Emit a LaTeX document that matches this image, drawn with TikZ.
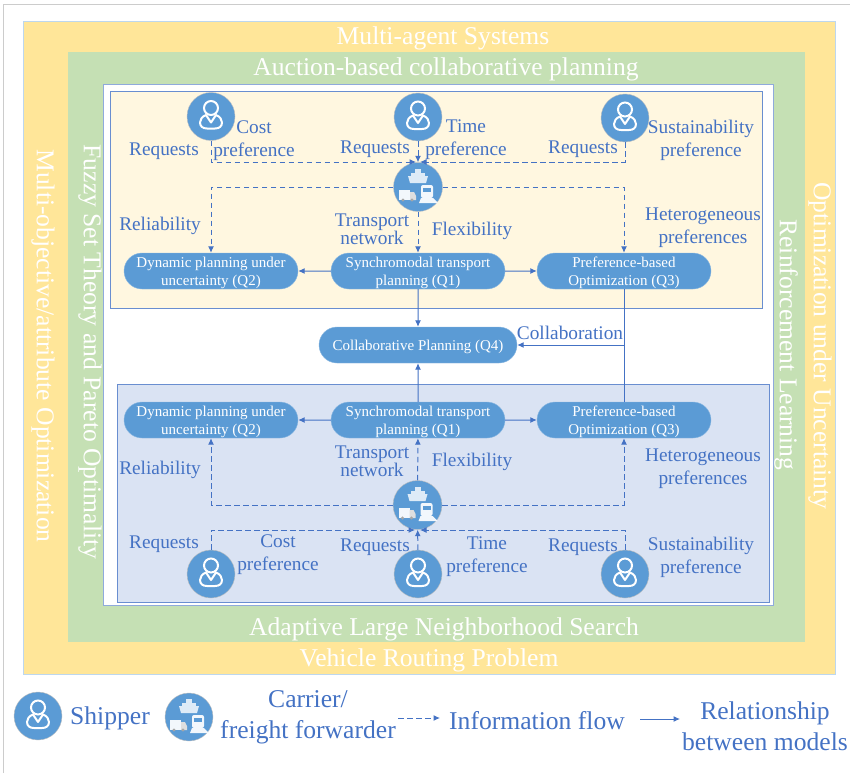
\documentclass[tikz,border=0pt]{standalone}
\usepackage{fontspec}
\setmainfont{Liberation Serif}
\usetikzlibrary{shapes.misc,arrows.meta}
\definecolor{flowblue}{HTML}{4472C4}
\definecolor{pillblue}{HTML}{5B9BD5}
\definecolor{outeryellow}{HTML}{FFE699}
\definecolor{midgreen}{HTML}{C5E0B4}
\definecolor{paleyellow}{HTML}{FFF7E0}
\definecolor{paleblue}{HTML}{DAE3F3}
\definecolor{edgeblue}{HTML}{8FAADC}
\definecolor{outeredge}{HTML}{BDD7EE}
\newcommand{\fsize}[2]{\fontsize{#1}{#2}\selectfont}
\tikzset{
  band/.style={draw=edgeblue, line width=.8pt},
  pill/.style={rounded rectangle, fill=pillblue, draw=pillblue!70!white, text=white, align=center,
    minimum width=174, minimum height=36, inner sep=0pt, text depth=0pt, font=\fsize{15}{18}},
  badge/.style={circle, fill=pillblue, draw=gray!50, minimum size=48, inner sep=0pt},
  lbl/.style={text=flowblue, align=center, inner sep=0pt, font=\fsize{19.3}{20}},
  big/.style={text=flowblue, align=center, inner sep=0pt, font=\fsize{25.6}{31}},
  bandtitle/.style={text=white, inner sep=0pt, font=\fsize{25.6}{26}},
  flow/.style={-{Latex[length=6.5pt,width=6pt]}, flowblue, dashed, dash pattern=on 5.5pt off 3.5pt, line width=1pt},
  rel/.style={-{Latex[length=6.5pt,width=6pt]}, flowblue, line width=1pt},
  shipperpic/.pic={
    \draw[white, line width=2pt] (0,-8.5) circle[radius=7];
    \draw[white, line width=2pt, line join=round] (-5,-1.5) .. controls (-9,0) and (-11,3) .. (-11,6)
      .. controls (-11,10) and (-8,12) .. (-4,12) -- (4,12) .. controls (8,12) and (11,10) .. (11,6)
      .. controls (11,3) and (9,0) .. (5,-1.5) -- (0,6) -- cycle;
  },
  carrierpic/.pic={
    % ship
    \fill[white!80!pillblue] (-10,-11) -- (10,-11) -- (8,-4) -- (-8,-4) -- cycle;
    \fill[white!80!pillblue] (-7,-14) rectangle (7,-11);
    \fill[white!80!pillblue] (-3,-18) rectangle (3,-14);
    % truck
    \fill[white!92!pillblue] (-19,3) rectangle (-8,13);
    \fill[white!75!gray] (-8,5) -- (-4,5) -- (-2,9) -- (-2,13) -- (-8,13) -- cycle;
    \fill[gray!70] (-15,13) circle[radius=1.6] (-6,13) circle[radius=1.6];
    % train
    \fill[white!92!pillblue, rounded corners=2pt] (3,-2) rectangle (15,11);
    \fill[pillblue] (5,1) rectangle (13,5);
    \fill[white!92!pillblue] (3,11) -- (1,16) -- (20,16) -- (15,11) -- cycle;
  }
}
\begin{document}
\begin{tikzpicture}[x=1pt,y=-1pt]
\useasboundingbox (0,0) rectangle (850,773);

\draw[gray!40, line width=1pt] (3.5,773) -- (3.5,4.5) -- (850,4.5);
\draw[band, draw=outeredge, fill=outeryellow] (23,21) rectangle (835,674);
\draw[band, draw=midgreen, fill=midgreen] (68,52) rectangle (804,641);
\draw[band, fill=white] (103,84) rectangle (773,605);
\draw[band, draw=flowblue!80, fill=paleyellow] (110,91) rectangle (762,308);
\draw[band, draw=flowblue!80, fill=paleblue] (117,384) rectangle (769,602);

\node[bandtitle] (mas) at (443,38.5) {Multi-agent Systems};
\node[bandtitle] (auction) at (446,69) {Auction-based collaborative planning};
\node[bandtitle] (alns) at (444,629) {Adaptive Large Neighborhood Search};
\node[bandtitle] (vrp) at (429,660) {Vehicle Routing Problem};
\node[bandtitle, rotate=-90] (moo) at (43,346) {Multi-objective/attribute Optimization};
\node[bandtitle, rotate=-90] (fuzzy) at (90,352) {Fuzzy Set Theory and Pareto Optimality};
\node[bandtitle, rotate=-90] (uncert) at (820,346) {Optimization under Uncertainty};
\node[bandtitle, rotate=-90] (rl) at (786,345) {Reinforcement Learning};

% upper block
\node[badge] (s1) at (211,116.5) {};
\node[badge] (s2) at (418,117) {};
\node[badge] (s3) at (625,118) {};
\node[badge, minimum size=49] (c1) at (418,187) {};
\pic at (s1) {shipperpic};
\pic at (s2) {shipperpic};
\pic at (s3) {shipperpic};
\pic at (c1) {carrierpic};
\node[pill] (dyn1) at (211,271) {Dynamic planning under\\uncertainty (Q2)};
\node[pill] (syn1) at (418,271) {Synchromodal transport\\planning (Q1)};
\node[pill] (pref1) at (624,271) {Preference-based\\Optimization (Q3)};
\node[pill, minimum width=198] (q4) at (418,345) {Collaborative Planning (Q4)};

% lower block
\node[pill] (dyn2) at (211,420) {Dynamic planning under\\uncertainty (Q2)};
\node[pill] (syn2) at (418,420) {Synchromodal transport\\planning (Q1)};
\node[pill] (pref2) at (624,420) {Preference-based\\Optimization (Q3)};
\node[badge, minimum size=49] (c2) at (417.5,505) {};
\node[badge] (s4) at (211,574) {};
\node[badge] (s5) at (418,574) {};
\node[badge] (s6) at (625,574) {};
\pic at (s4) {shipperpic};
\pic at (s5) {shipperpic};
\pic at (s6) {shipperpic};
\pic at (c2) {carrierpic};

\coordinate (in1) at (416,162);
\coordinate (in2) at (420,162);
\coordinate (in4) at (415,530);
\coordinate (in6) at (420,530);

\draw[flow] (s1.south) |- (in1);
\draw[flow] (s3.south) |- (in2);
\draw[flow] (s2) -- (c1);
\draw[flow] (c1.west) -| (dyn1.north);
\draw[flow] (c1.east) -| (pref1.north);
\draw[flow] (c1) -- (syn1);
\draw[rel] (syn1) -- (dyn1);
\draw[rel] (syn1) -- (pref1);
\draw[rel] (syn1) -- (q4);
\draw[rel] (pref1.south) |- (q4.east);
\draw[rel] (syn2) -- (dyn2);
\draw[rel] (syn2) -- (pref2);
\draw[rel] (syn2) -- (q4);
\draw[rel, -] (pref2.north) -- (pref1.south);
\draw[flow] (c2.west) -| (dyn2.south);
\draw[flow] (c2.east) -| (pref2.south);
\draw[flow] (c2) -- (syn2);
\draw[flow] (s4.north) |- (in4);
\draw[flow] (s6.north) |- (in6);
\draw[flow] (s5) -- (c2);

\node[lbl] (req1) at (164,151) {Requests};
\node[lbl] (cost1) at (254,141) {Cost\\[3pt]preference};
\node[lbl] (req2) at (375,149) {Requests};
\node[lbl] (time1) at (466,139.5) {Time\\[3pt]preference};
\node[lbl] (req3) at (583,149) {Requests};
\node[lbl] (sust1) at (701,140) {Sustainability\\[3pt]preference};
\node[lbl] (rel1) at (160,226) {Reliability};
\node[lbl] (net1) at (372,229.5) {Transport\\[-2pt]network};
\node[lbl] (flex1) at (472,231) {Flexibility};
\node[lbl] (het1) at (703,228) {Heterogeneous\\[3pt]preferences};
\node[lbl] (collab) at (570,333) {Collaboration};
\node[lbl] (rel2) at (160,470) {Reliability};
\node[lbl] (net2) at (372,461.5) {Transport\\[-2pt]network};
\node[lbl] (flex2) at (472,462) {Flexibility};
\node[lbl] (het2) at (703,469) {Heterogeneous\\[3pt]preferences};
\node[lbl] (req4) at (164,544) {Requests};
\node[lbl] (cost2) at (278,555) {Cost\\[3pt]preference};
\node[lbl] (req5) at (375,547) {Requests};
\node[lbl] (time2) at (487,557) {Time\\[3pt]preference};
\node[lbl] (req6) at (583,547) {Requests};
\node[lbl] (sust2) at (701,557) {Sustainability\\[3pt]preference};

% legend
\node[badge] (shipper) at (38,716) {};
\pic at (shipper) {shipperpic};
\node[badge] (carrier) at (189,717) {};
\pic at (carrier) {carrierpic};
\node[big] (shiptxt) at (110,718) {Shipper};
\node[big] (cartxt) at (308,717) {Carrier/\\freight forwarder};
\node[big] (inftxt) at (537,721) {Information flow};
\node[big] (reltxt) at (765,726) {Relationship\\between models};
\coordinate (dashfrom) at (398,718);
\coordinate (dashto) at (440,718);
\coordinate (solfrom) at (640,719);
\coordinate (solto) at (680,719);
\draw[flow] (dashfrom) -- (dashto);
\draw[rel] (solfrom) -- (solto);
\end{tikzpicture}
\end{document}
